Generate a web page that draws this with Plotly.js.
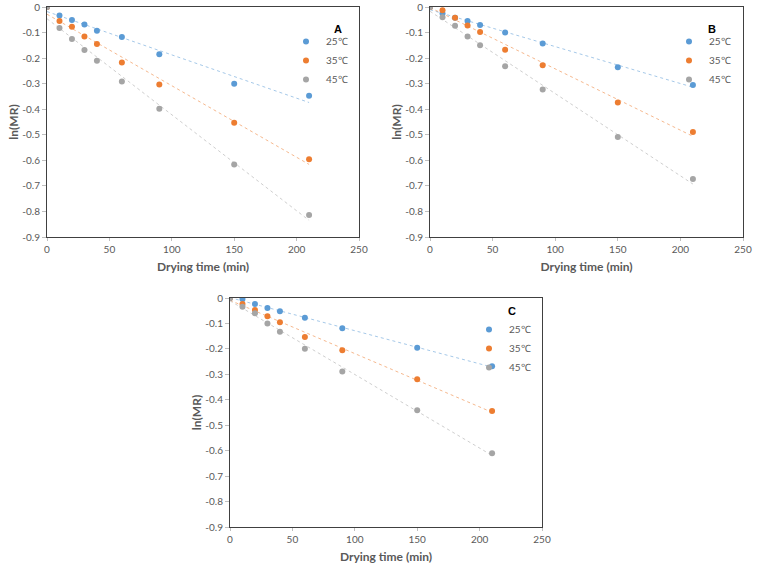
<!DOCTYPE html>
<html>
<head>
<meta charset="utf-8">
<script src="https://cdn.plot.ly/plotly-3.0.1.min.js"></script>
<style>html,body{margin:0;padding:0;background:#fff;}#chart{width:759px;height:573px;}</style>
</head>
<body>
<div id="chart"></div>
<script>
// Drying time (min)
const time = [0, 10, 20, 30, 40, 60, 90, 150, 210];

// Panel A: ln(MR)
const A25 = [0, -0.033, -0.051, -0.068, -0.093, -0.117, -0.185, -0.300, -0.347];
const A35 = [0, -0.055, -0.077, -0.115, -0.145, -0.217, -0.303, -0.453, -0.596];
const A45 = [0, -0.082, -0.125, -0.168, -0.210, -0.292, -0.398, -0.616, -0.814];

// Panel B: ln(MR)
const B25 = [0, -0.025, -0.042, -0.055, -0.070, -0.100, -0.143, -0.236, -0.305];
const B35 = [0, -0.013, -0.042, -0.072, -0.098, -0.167, -0.228, -0.374, -0.489];
const B45 = [0, -0.040, -0.073, -0.115, -0.150, -0.232, -0.323, -0.509, -0.673];

// Panel C: ln(MR)
const C25 = [0, -0.004, -0.024, -0.039, -0.052, -0.078, -0.119, -0.196, -0.268];
const C35 = [0, -0.024, -0.047, -0.072, -0.095, -0.153, -0.205, -0.319, -0.444];
const C45 = [0, -0.034, -0.060, -0.100, -0.133, -0.199, -0.289, -0.441, -0.610];

const seriesNames = ['25℃', '35℃', '45℃'];
const panelLetters = ['A', 'B', 'C'];
const xTickVals = [0, 50, 100, 150, 200, 250];
const yTickVals = [0, -0.1, -0.2, -0.3, -0.4, -0.5, -0.6, -0.7, -0.8, -0.9];
const yTickText = ['0', '-0.1', '-0.2', '-0.3', '-0.4', '-0.5', '-0.6', '-0.7', '-0.8', '-0.9'];

const colors = ['#5B9BD5', '#ED7D31', '#A5A5A5'];
const panels = [[A25, A35, A45], [B25, B35, B45], [C25, C35, C45]];
const axisIds = [['x', 'y'], ['x2', 'y2'], ['x3', 'y3']];
const legendIds = ['legend', 'legend2', 'legend3'];

function fit(xs, ys) {
  const n = xs.length;
  let sx = 0, sy = 0, sxx = 0, sxy = 0;
  for (let i = 0; i < n; i++) { sx += xs[i]; sy += ys[i]; sxx += xs[i] * xs[i]; sxy += xs[i] * ys[i]; }
  const b = (n * sxy - sx * sy) / (n * sxx - sx * sx);
  const a = (sy - b * sx) / n;
  return [a, b];
}

const traces = [];
panels.forEach((series, p) => {
  series.forEach((ys, s) => {
    const [a, b] = fit(time, ys);
    const x0 = Math.min(...time), x1 = Math.max(...time);
    traces.push({
      x: [x0, x1], y: [a + b * x0, a + b * x1],
      xaxis: axisIds[p][0], yaxis: axisIds[p][1],
      mode: 'lines', showlegend: false, hoverinfo: 'skip',
      line: {color: colors[s], width: 1, dash: 'dot'}, opacity: 0.55
    });
  });
  series.forEach((ys, s) => {
    traces.push({
      x: time, y: ys, name: seriesNames[s],
      xaxis: axisIds[p][0], yaxis: axisIds[p][1],
      legend: legendIds[p],
      mode: 'markers', marker: {color: colors[s], size: 6}
    });
  });
});

const W = 759, H = 573;
const boxes = [
  {l: 47, r: 359, t: 7, b: 237},
  {l: 430, r: 743, t: 7, b: 237},
  {l: 230, r: 542, t: 298, b: 527}
];
const legendPos = [[286, 27], [669, 27], [469, 315]];
const letterPos = [[338, 21], [718, 21], [518, 311]];

const tickFont = {family: 'Lato, "Liberation Sans", sans-serif', size: 10, color: '#595959'};
const titleFont = {family: 'Lato, "Liberation Sans", sans-serif', size: 12, color: '#595959', weight: 'bold'};

const layout = {
  width: W, height: H,
  margin: {l: 0, r: 0, t: 0, b: 0},
  paper_bgcolor: '#ffffff', plot_bgcolor: '#ffffff',
  showlegend: true,
  annotations: []
};

boxes.forEach((bx, p) => {
  const xs = p === 0 ? '' : String(p + 1);
  layout['xaxis' + xs] = {
    domain: [bx.l / W, bx.r / W], anchor: 'y' + xs,
    range: [0, 250], tickvals: xTickVals, ticks: 'outside', ticklen: 3, tickcolor: '#bfbfbf',
    showgrid: false, zeroline: true, zerolinecolor: '#595959', zerolinewidth: 1.5,
    showline: true, mirror: true, linecolor: '#404040', linewidth: 1,
    tickfont: tickFont, fixedrange: true,
    title: {text: 'Drying time (min)', font: titleFont, standoff: 8}
  };
  layout['yaxis' + xs] = {
    domain: [1 - bx.b / H, 1 - bx.t / H], anchor: 'x' + xs,
    range: [-0.9, 0], tickvals: yTickVals, ticktext: yTickText, ticks: 'outside', ticklen: 4, tickcolor: '#bfbfbf',
    showgrid: false, zeroline: true, zerolinecolor: '#808080', zerolinewidth: 2,
    showline: true, mirror: true, linecolor: '#404040', linewidth: 1,
    tickfont: tickFont, fixedrange: true,
    title: {text: 'ln(MR)', font: titleFont, standoff: 1}
  };
  const lid = legendIds[p];
  layout[lid] = {
    x: legendPos[p][0] / W, y: 1 - legendPos[p][1] / H, xanchor: 'left', yanchor: 'top',
    bgcolor: 'rgba(0,0,0,0)', borderwidth: 0,
    font: {family: 'Lato, "Liberation Sans", sans-serif', size: 10, color: '#595959'},
    itemwidth: 30, tracegroupgap: 0
  };
  layout.annotations.push({
    text: '<b>' + panelLetters[p] + '</b>', xref: 'paper', yref: 'paper',
    x: letterPos[p][0] / W, y: 1 - letterPos[p][1] / H, showarrow: false,
    font: {family: '"Liberation Sans", Arial, sans-serif', size: 11, color: '#000'}
  });
});

Plotly.newPlot('chart', traces, layout, {displayModeBar: false, staticPlot: true});
</script>
</body>
</html>
